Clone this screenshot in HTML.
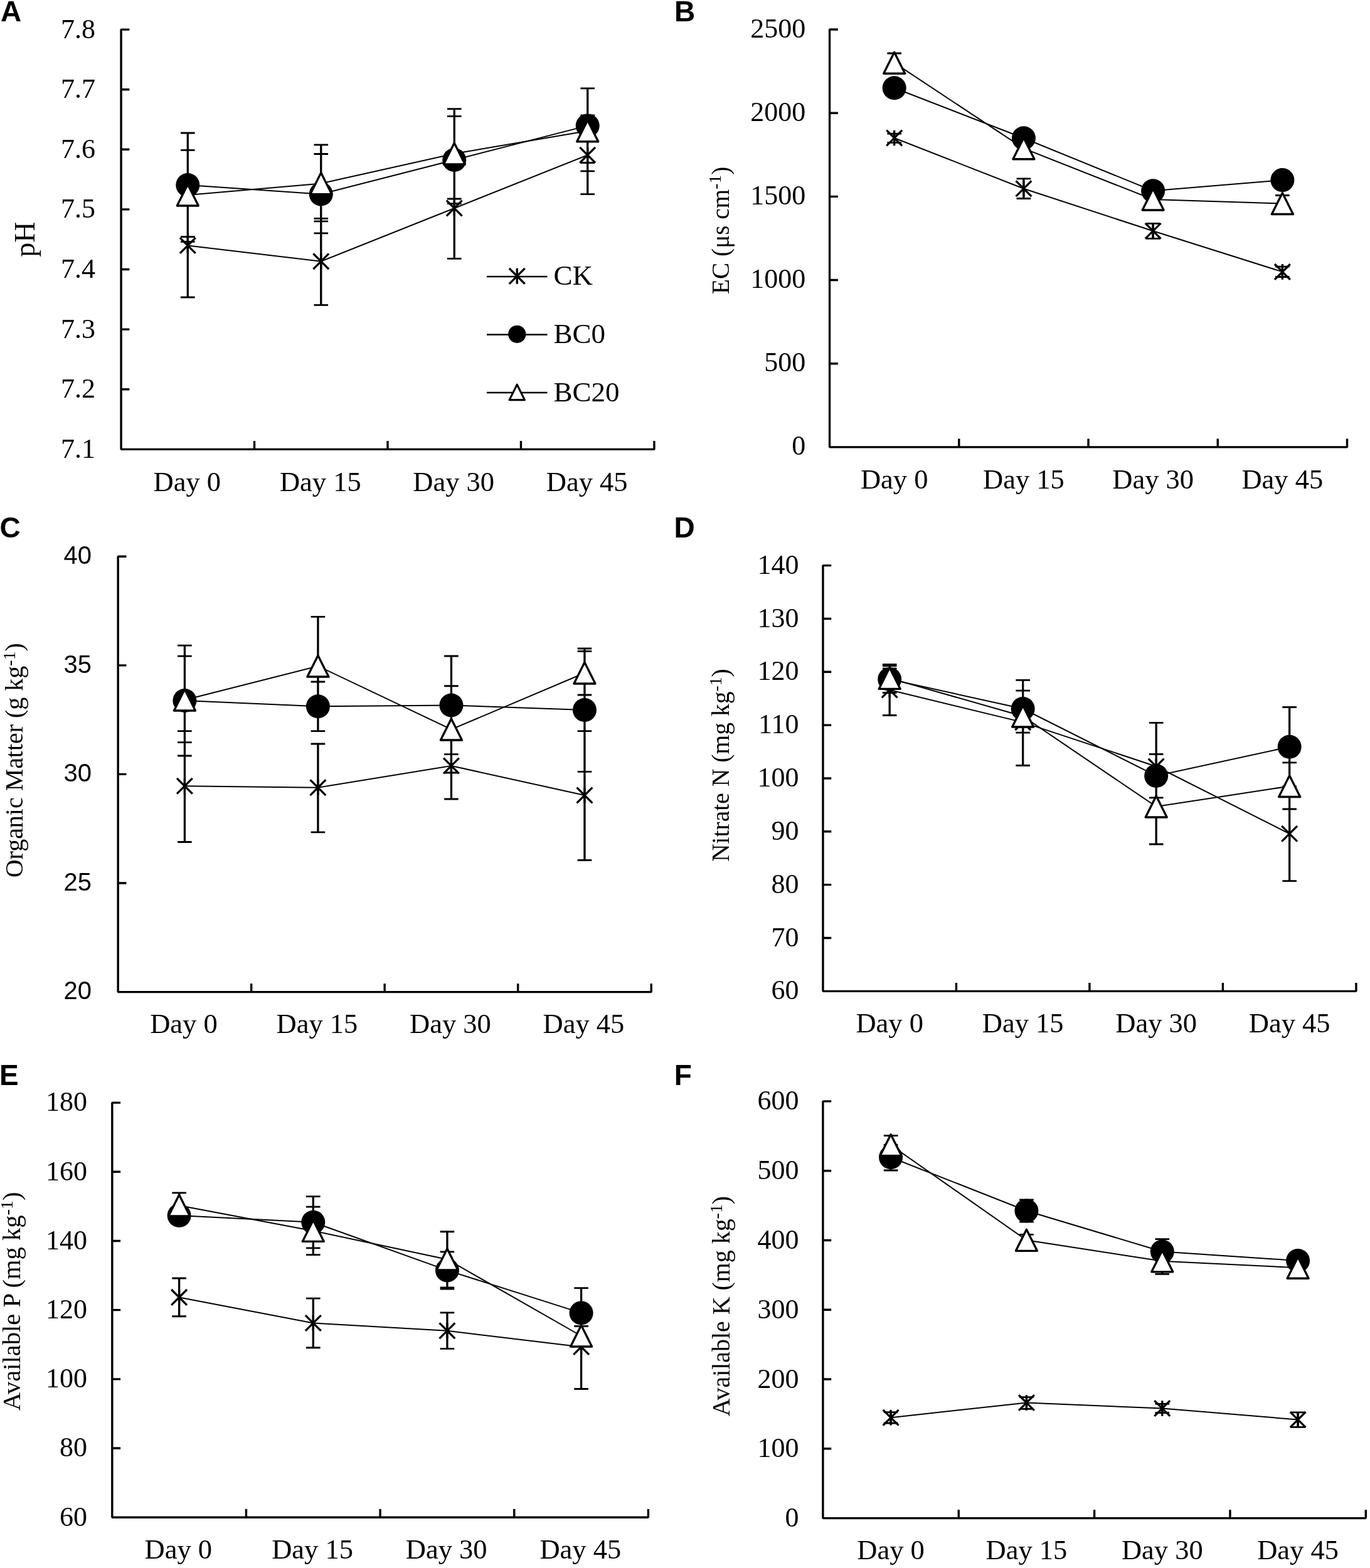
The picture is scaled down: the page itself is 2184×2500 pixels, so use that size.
<!DOCTYPE html>
<html><head><meta charset="utf-8"><title>Soil properties figure</title>
<style>html,body{margin:0;padding:0;background:#fff;}svg{display:block;}.k{stroke:#000;fill:none;}.t{stroke:#000;fill:#fff;stroke-linejoin:round;}circle{fill:#000;}.tf{font-family:"Liberation Serif", "Times New Roman", serif;fill:#000;}.ts{font-family:"Liberation Sans", Arial, sans-serif;fill:#000;}.lt{font-family:"Liberation Sans", Arial, sans-serif;font-weight:bold;font-size:46px;fill:#000;}</style></head><body>
<svg xmlns="http://www.w3.org/2000/svg" width="2184" height="2500" viewBox="0 0 2184 2500">
<rect width="2184" height="2500" fill="#fff"/>
<g>
<path d="M206.35 47.1H193.05V716.35H1042.95V703.05" class="k" stroke-width="3.4" stroke-linejoin="bevel"/>
<path d="M193.05 620.74H206.35M193.05 525.14H206.35M193.05 429.53H206.35M193.05 333.92H206.35M193.05 238.31H206.35M193.05 142.71H206.35M405.53 716.35V703.05M618 716.35V703.05M830.48 716.35V703.05" class="k" stroke-width="3.4"/>
<text x="152" y="729.91" class="tf" text-anchor="end" font-size="44">7.1</text>
<text x="152" y="634.31" class="tf" text-anchor="end" font-size="44">7.2</text>
<text x="152" y="538.7" class="tf" text-anchor="end" font-size="44">7.3</text>
<text x="152" y="443.09" class="tf" text-anchor="end" font-size="44">7.4</text>
<text x="152" y="347.49" class="tf" text-anchor="end" font-size="44">7.5</text>
<text x="152" y="251.88" class="tf" text-anchor="end" font-size="44">7.6</text>
<text x="152" y="156.27" class="tf" text-anchor="end" font-size="44">7.7</text>
<text x="152" y="60.66" class="tf" text-anchor="end" font-size="44">7.8</text>
<text x="298.29" y="782.8" class="tf" text-anchor="middle" font-size="44.5">Day 0</text>
<text x="510.76" y="782.8" class="tf" text-anchor="middle" font-size="44.5">Day 15</text>
<text x="723.24" y="782.8" class="tf" text-anchor="middle" font-size="44.5">Day 30</text>
<text x="935.71" y="782.8" class="tf" text-anchor="middle" font-size="44.5">Day 45</text>
<text transform="translate(55.3 381.6) rotate(-90)" class="tf" text-anchor="middle" font-size="46">pH</text>
<text x="1" y="33.6" class="lt">A</text>
<polyline points="299.29,391.5 511.76,416.7 724.24,332 936.71,247.2" class="k" stroke-width="2"/>
<polyline points="299.29,295 511.76,309.5 724.24,255 936.71,200.4" class="k" stroke-width="2"/>
<polyline points="299.29,311 511.76,292.6 724.24,245 936.71,208.7" class="k" stroke-width="2"/>
<path d="M299.29 309V474M511.76 352.8V486.3M724.24 252V412.4M936.71 184V309.7M299.29 212V377.5M511.76 245.5V371.9M724.24 185.4V324.7M936.71 140.8V259.5M299.29 239.4V385.3M511.76 230.9V348.4M724.24 173.6V317M936.71 140.8V272.9" class="k" stroke-width="3.3"/>
<path d="M287.99 309H310.59M287.99 474H310.59M500.46 352.8H523.06M500.46 486.3H523.06M712.94 252H735.54M712.94 412.4H735.54M925.41 184H948.01M925.41 309.7H948.01M287.99 212H310.59M287.99 377.5H310.59M500.46 245.5H523.06M500.46 371.9H523.06M712.94 185.4H735.54M712.94 324.7H735.54M925.41 140.8H948.01M925.41 259.5H948.01M287.99 239.4H310.59M287.99 385.3H310.59M500.46 230.9H523.06M500.46 348.4H523.06M712.94 173.6H735.54M712.94 317H735.54M925.41 140.8H948.01M925.41 272.9H948.01" class="k" stroke-width="2.8"/>
<path d="M286.89 379.1L311.69 403.9M286.89 403.9L311.69 379.1M299.29 379.2V403.8" class="k" stroke-width="3.3"/>
<path d="M499.36 404.3L524.16 429.1M499.36 429.1L524.16 404.3M511.76 404.4V429" class="k" stroke-width="3.3"/>
<path d="M711.84 319.6L736.64 344.4M711.84 344.4L736.64 319.6M724.24 319.7V344.3" class="k" stroke-width="3.3"/>
<path d="M924.31 234.8L949.11 259.6M924.31 259.6L949.11 234.8M936.71 234.9V259.5" class="k" stroke-width="3.3"/>
<circle cx="299.29" cy="295" r="19"/>
<circle cx="511.76" cy="309.5" r="19"/>
<circle cx="724.24" cy="255" r="19"/>
<circle cx="936.71" cy="200.4" r="19"/>
<path d="M299.29 294L316.29 328L282.29 328Z" class="t" stroke-width="3.35"/>
<path d="M511.76 275.6L528.76 309.6L494.76 309.6Z" class="t" stroke-width="3.35"/>
<path d="M724.24 228L741.24 262L707.24 262Z" class="t" stroke-width="3.35"/>
<path d="M936.71 191.7L953.71 225.7L919.71 225.7Z" class="t" stroke-width="3.35"/>
<path d="M776 441H872.5" class="k" stroke-width="2.5"/>
<path d="M811.85 427.85L836.65 452.65M811.85 452.65L836.65 427.85M824.25 427.7V452.8" class="k" stroke-width="3.4"/>
<text x="882.5" y="454.2" class="tf" font-size="45">CK</text>
<path d="M776 533.4H872.5" class="k" stroke-width="2.5"/>
<circle cx="824.25" cy="532.8" r="14.1"/>
<text x="882.5" y="547.3" class="tf" font-size="45">BC0</text>
<path d="M776 626H872.5" class="k" stroke-width="2.5"/>
<path d="M824.25 613.2L836.45 637.6L812.05 637.6Z" class="t" stroke-width="3.1"/>
<text x="882.5" y="639.7" class="tf" font-size="45">BC20</text>
</g>
<g>
<path d="M1335.85 47.05H1322.55V712.9H2147.5V699.6" class="k" stroke-width="3.4" stroke-linejoin="bevel"/>
<path d="M1322.55 579.73H1335.85M1322.55 446.56H1335.85M1322.55 313.39H1335.85M1322.55 180.22H1335.85M1528.79 712.9V699.6M1735.03 712.9V699.6M1941.26 712.9V699.6" class="k" stroke-width="3.4"/>
<text x="1284.3" y="725.46" class="tf" text-anchor="end" font-size="44">0</text>
<text x="1284.3" y="592.29" class="tf" text-anchor="end" font-size="44">500</text>
<text x="1284.3" y="459.12" class="tf" text-anchor="end" font-size="44">1000</text>
<text x="1284.3" y="325.95" class="tf" text-anchor="end" font-size="44">1500</text>
<text x="1284.3" y="192.78" class="tf" text-anchor="end" font-size="44">2000</text>
<text x="1284.3" y="59.61" class="tf" text-anchor="end" font-size="44">2500</text>
<text x="1425.67" y="779" class="tf" text-anchor="middle" font-size="44.5">Day 0</text>
<text x="1631.91" y="779" class="tf" text-anchor="middle" font-size="44.5">Day 15</text>
<text x="1838.14" y="779" class="tf" text-anchor="middle" font-size="44.5">Day 30</text>
<text x="2044.38" y="779" class="tf" text-anchor="middle" font-size="44.5">Day 45</text>
<text transform="translate(1161.6 367.3) rotate(-90)" class="tf" text-anchor="middle" font-size="39.3">EC (μs cm<tspan font-size="27.51" dy="-12.18">-1</tspan><tspan dy="12.18">)</tspan></text>
<text x="1075" y="33.6" class="lt">B</text>
<polyline points="1425.67,220 1631.91,300.7 1838.14,368.3 2044.38,433.4" class="k" stroke-width="2"/>
<polyline points="1425.67,140.2 1631.91,220.2 1838.14,304.3 2044.38,287.1" class="k" stroke-width="2"/>
<polyline points="1425.67,100.2 1631.91,236.7 1838.14,318 2044.38,324.5" class="k" stroke-width="2"/>
<path d="M1425.67 213.1V227.4M1631.91 284.9V316.5M1838.14 356.4V380.4M2044.38 425.1V441.5M1425.67 130V150M1631.91 210V230M1838.14 294V314M2044.38 277V297M1425.67 85V114M1631.91 227V246M1838.14 308V328M2044.38 311.5V338" class="k" stroke-width="3.3"/>
<path d="M1414.37 213.1H1436.97M1414.37 227.4H1436.97M1620.61 284.9H1643.21M1620.61 316.5H1643.21M1826.84 356.4H1849.44M1826.84 380.4H1849.44M2033.08 425.1H2055.68M2033.08 441.5H2055.68M1414.37 130H1436.97M1414.37 150H1436.97M1620.61 210H1643.21M1620.61 230H1643.21M1826.84 294H1849.44M1826.84 314H1849.44M2033.08 277H2055.68M2033.08 297H2055.68M1414.37 85H1436.97M1414.37 114H1436.97M1620.61 227H1643.21M1620.61 246H1643.21M1826.84 308H1849.44M1826.84 328H1849.44M2033.08 311.5H2055.68M2033.08 338H2055.68" class="k" stroke-width="2.8"/>
<path d="M1413.27 207.6L1438.07 232.4M1413.27 232.4L1438.07 207.6M1425.67 207.7V232.3" class="k" stroke-width="3.3"/>
<path d="M1619.51 288.3L1644.31 313.1M1619.51 313.1L1644.31 288.3M1631.91 288.4V313" class="k" stroke-width="3.3"/>
<path d="M1825.74 355.9L1850.54 380.7M1825.74 380.7L1850.54 355.9M1838.14 356V380.6" class="k" stroke-width="3.3"/>
<path d="M2031.98 421L2056.78 445.8M2031.98 445.8L2056.78 421M2044.38 421.1V445.7" class="k" stroke-width="3.3"/>
<circle cx="1425.67" cy="140.2" r="19"/>
<circle cx="1631.91" cy="220.2" r="19"/>
<circle cx="1838.14" cy="304.3" r="19"/>
<circle cx="2044.38" cy="287.1" r="19"/>
<path d="M1425.67 83.2L1442.67 117.2L1408.67 117.2Z" class="t" stroke-width="3.35"/>
<path d="M1631.91 219.7L1648.91 253.7L1614.91 253.7Z" class="t" stroke-width="3.35"/>
<path d="M1838.14 301L1855.14 335L1821.14 335Z" class="t" stroke-width="3.35"/>
<path d="M2044.38 307.5L2061.38 341.5L2027.38 341.5Z" class="t" stroke-width="3.35"/>
</g>
<g>
<path d="M201.45 887.25H188.15V1581.6H1038.2V1568.3" class="k" stroke-width="3.4" stroke-linejoin="bevel"/>
<path d="M188.15 1408.01H201.45M188.15 1234.42H201.45M188.15 1060.84H201.45M400.66 1581.6V1568.3M613.18 1581.6V1568.3M825.69 1581.6V1568.3" class="k" stroke-width="3.4"/>
<text x="146" y="1593.34" class="ts" text-anchor="end" font-size="40">20</text>
<text x="146" y="1419.75" class="ts" text-anchor="end" font-size="40">25</text>
<text x="146" y="1246.16" class="ts" text-anchor="end" font-size="40">30</text>
<text x="146" y="1072.58" class="ts" text-anchor="end" font-size="40">35</text>
<text x="146" y="898.99" class="ts" text-anchor="end" font-size="40">40</text>
<text x="292.91" y="1646.8" class="tf" text-anchor="middle" font-size="44.5">Day 0</text>
<text x="505.42" y="1646.8" class="tf" text-anchor="middle" font-size="44.5">Day 15</text>
<text x="717.93" y="1646.8" class="tf" text-anchor="middle" font-size="44.5">Day 30</text>
<text x="930.44" y="1646.8" class="tf" text-anchor="middle" font-size="44.5">Day 45</text>
<text transform="translate(36.1 1212.2) rotate(-90)" class="tf" text-anchor="middle" font-size="39.95">Organic Matter (g kg<tspan font-size="27.96" dy="-12.38">-1</tspan><tspan dy="12.38">)</tspan></text>
<text x="-0.5" y="856.9" class="lt">C</text>
<polyline points="294.41,1253.2 506.92,1255.7 719.43,1221 931.94,1268" class="k" stroke-width="2"/>
<polyline points="294.41,1117 506.92,1126.3 719.43,1124.5 931.94,1132" class="k" stroke-width="2"/>
<polyline points="294.41,1116 506.92,1062 719.43,1163 931.94,1073" class="k" stroke-width="2"/>
<path d="M294.41 1165.7V1342.5M506.92 1186V1326.8M719.43 1168V1274M931.94 1165.7V1371.5M294.41 1029.1V1205M506.92 1087V1165.7M719.43 1046V1202.7M931.94 1038.4V1230.4M294.41 1046.1V1183.6M506.92 983.3V1140.7M719.43 1093.75V1232M931.94 1034V1108" class="k" stroke-width="3.3"/>
<path d="M283.11 1165.7H305.71M283.11 1342.5H305.71M495.62 1186H518.22M495.62 1326.8H518.22M708.13 1168H730.73M708.13 1274H730.73M920.64 1165.7H943.24M920.64 1371.5H943.24M283.11 1029.1H305.71M283.11 1205H305.71M495.62 1087H518.22M495.62 1165.7H518.22M708.13 1046H730.73M708.13 1202.7H730.73M920.64 1038.4H943.24M920.64 1230.4H943.24M283.11 1046.1H305.71M283.11 1183.6H305.71M495.62 983.3H518.22M495.62 1140.7H518.22M708.13 1093.75H730.73M708.13 1232H730.73M920.64 1034H943.24M920.64 1108H943.24" class="k" stroke-width="2.8"/>
<path d="M282.01 1240.8L306.81 1265.6M282.01 1265.6L306.81 1240.8M294.41 1240.9V1265.5" class="k" stroke-width="3.3"/>
<path d="M494.52 1243.3L519.32 1268.1M494.52 1268.1L519.32 1243.3M506.92 1243.4V1268" class="k" stroke-width="3.3"/>
<path d="M707.03 1208.6L731.83 1233.4M707.03 1233.4L731.83 1208.6M719.43 1208.7V1233.3" class="k" stroke-width="3.3"/>
<path d="M919.54 1255.6L944.34 1280.4M919.54 1280.4L944.34 1255.6M931.94 1255.7V1280.3" class="k" stroke-width="3.3"/>
<circle cx="294.41" cy="1117" r="19"/>
<circle cx="506.92" cy="1126.3" r="19"/>
<circle cx="719.43" cy="1124.5" r="19"/>
<circle cx="931.94" cy="1132" r="19"/>
<path d="M294.41 1099L311.41 1133L277.41 1133Z" class="t" stroke-width="3.35"/>
<path d="M506.92 1045L523.92 1079L489.92 1079Z" class="t" stroke-width="3.35"/>
<path d="M719.43 1146L736.43 1180L702.43 1180Z" class="t" stroke-width="3.35"/>
<path d="M931.94 1056L948.94 1090L914.94 1090Z" class="t" stroke-width="3.35"/>
</g>
<g>
<path d="M1325.25 901.6H1311.95V1580.35H2161.9V1567.05" class="k" stroke-width="3.4" stroke-linejoin="bevel"/>
<path d="M1311.95 1495.51H1325.25M1311.95 1410.66H1325.25M1311.95 1325.82H1325.25M1311.95 1240.97H1325.25M1311.95 1156.13H1325.25M1311.95 1071.29H1325.25M1311.95 986.44H1325.25M1524.44 1580.35V1567.05M1736.93 1580.35V1567.05M1949.41 1580.35V1567.05" class="k" stroke-width="3.4"/>
<text x="1273.4" y="1593.41" class="tf" text-anchor="end" font-size="44">60</text>
<text x="1273.4" y="1508.57" class="tf" text-anchor="end" font-size="44">70</text>
<text x="1273.4" y="1423.73" class="tf" text-anchor="end" font-size="44">80</text>
<text x="1273.4" y="1338.88" class="tf" text-anchor="end" font-size="44">90</text>
<text x="1273.4" y="1254.04" class="tf" text-anchor="end" font-size="44">100</text>
<text x="1273.4" y="1169.2" class="tf" text-anchor="end" font-size="44">110</text>
<text x="1273.4" y="1084.35" class="tf" text-anchor="end" font-size="44">120</text>
<text x="1273.4" y="999.51" class="tf" text-anchor="end" font-size="44">130</text>
<text x="1273.4" y="914.66" class="tf" text-anchor="end" font-size="44">140</text>
<text x="1418.19" y="1646.4" class="tf" text-anchor="middle" font-size="44.5">Day 0</text>
<text x="1630.68" y="1646.4" class="tf" text-anchor="middle" font-size="44.5">Day 15</text>
<text x="1843.17" y="1646.4" class="tf" text-anchor="middle" font-size="44.5">Day 30</text>
<text x="2055.66" y="1646.4" class="tf" text-anchor="middle" font-size="44.5">Day 45</text>
<text transform="translate(1161.8 1220.15) rotate(-90)" class="tf" text-anchor="middle" font-size="39.6">Nitrate N (mg kg<tspan font-size="27.72" dy="-12.28">-1</tspan><tspan dy="12.28">)</tspan></text>
<text x="1074.5" y="856.9" class="lt">D</text>
<polyline points="1418.19,1100 1630.68,1151.6 1843.17,1222 2055.66,1329.3" class="k" stroke-width="2"/>
<polyline points="1418.19,1083 1630.68,1130 1843.17,1237 2055.66,1190.7" class="k" stroke-width="2"/>
<polyline points="1418.19,1081.4 1630.68,1142 1843.17,1286 2055.66,1253.5" class="k" stroke-width="2"/>
<path d="M1418.19 1059.5V1140.5M1630.68 1084.4V1220.5M1843.17 1152.3V1292M2055.66 1254V1404.6M1418.19 1061.5V1104.5M1630.68 1101.2V1159M1843.17 1202.5V1271.9M2055.66 1127.5V1254M1418.19 1066V1096.8M1630.68 1116V1168.1M1843.17 1226V1346M2055.66 1215.8V1290" class="k" stroke-width="3.3"/>
<path d="M1406.89 1059.5H1429.49M1406.89 1140.5H1429.49M1619.38 1084.4H1641.98M1619.38 1220.5H1641.98M1831.87 1152.3H1854.47M1831.87 1292H1854.47M2044.36 1254H2066.96M2044.36 1404.6H2066.96M1406.89 1061.5H1429.49M1406.89 1104.5H1429.49M1619.38 1101.2H1641.98M1619.38 1159H1641.98M1831.87 1202.5H1854.47M1831.87 1271.9H1854.47M2044.36 1127.5H2066.96M2044.36 1254H2066.96M1406.89 1066H1429.49M1406.89 1096.8H1429.49M1619.38 1116H1641.98M1619.38 1168.1H1641.98M1831.87 1226H1854.47M1831.87 1346H1854.47M2044.36 1215.8H2066.96M2044.36 1290H2066.96" class="k" stroke-width="2.8"/>
<path d="M1405.79 1087.6L1430.59 1112.4M1405.79 1112.4L1430.59 1087.6M1418.19 1087.7V1112.3" class="k" stroke-width="3.3"/>
<path d="M1618.28 1139.2L1643.08 1164M1618.28 1164L1643.08 1139.2M1630.68 1139.3V1163.9" class="k" stroke-width="3.3"/>
<path d="M1830.77 1209.6L1855.57 1234.4M1830.77 1234.4L1855.57 1209.6M1843.17 1209.7V1234.3" class="k" stroke-width="3.3"/>
<path d="M2043.26 1316.9L2068.06 1341.7M2043.26 1341.7L2068.06 1316.9M2055.66 1317V1341.6" class="k" stroke-width="3.3"/>
<circle cx="1418.19" cy="1083" r="19"/>
<circle cx="1630.68" cy="1130" r="19"/>
<circle cx="1843.17" cy="1237" r="19"/>
<circle cx="2055.66" cy="1190.7" r="19"/>
<path d="M1418.19 1064.4L1435.19 1098.4L1401.19 1098.4Z" class="t" stroke-width="3.35"/>
<path d="M1630.68 1125L1647.68 1159L1613.68 1159Z" class="t" stroke-width="3.35"/>
<path d="M1843.17 1269L1860.17 1303L1826.17 1303Z" class="t" stroke-width="3.35"/>
<path d="M2055.66 1236.5L2072.66 1270.5L2038.66 1270.5Z" class="t" stroke-width="3.35"/>
</g>
<g>
<path d="M192.1 1758.1H178.8V2419.2H1033.4V2405.9" class="k" stroke-width="3.4" stroke-linejoin="bevel"/>
<path d="M178.8 2309.02H192.1M178.8 2198.83H192.1M178.8 2088.65H192.1M178.8 1978.47H192.1M178.8 1868.28H192.1M392.45 2419.2V2405.9M606.1 2419.2V2405.9M819.75 2419.2V2405.9" class="k" stroke-width="3.4"/>
<text x="139" y="2432.56" class="tf" text-anchor="end" font-size="44">60</text>
<text x="139" y="2322.38" class="tf" text-anchor="end" font-size="44">80</text>
<text x="139" y="2212.2" class="tf" text-anchor="end" font-size="44">100</text>
<text x="139" y="2102.01" class="tf" text-anchor="end" font-size="44">120</text>
<text x="139" y="1991.83" class="tf" text-anchor="end" font-size="44">140</text>
<text x="139" y="1881.65" class="tf" text-anchor="end" font-size="44">160</text>
<text x="139" y="1771.46" class="tf" text-anchor="end" font-size="44">180</text>
<text x="284.38" y="2484.5" class="tf" text-anchor="middle" font-size="44.5">Day 0</text>
<text x="498.03" y="2484.5" class="tf" text-anchor="middle" font-size="44.5">Day 15</text>
<text x="711.68" y="2484.5" class="tf" text-anchor="middle" font-size="44.5">Day 30</text>
<text x="925.33" y="2484.5" class="tf" text-anchor="middle" font-size="44.5">Day 45</text>
<text transform="translate(32.2 2074.8) rotate(-90)" class="tf" text-anchor="middle" font-size="40.5">Available P (mg kg<tspan font-size="28.35" dy="-12.55">-1</tspan><tspan dy="12.55">)</tspan></text>
<text x="-1" y="1730.3" class="lt">E</text>
<polyline points="285.62,2068.4 499.28,2109.5 712.93,2121.8 926.58,2147.5" class="k" stroke-width="2"/>
<polyline points="285.62,1938 499.28,1948.75 712.93,2025.4 926.58,2093.4" class="k" stroke-width="2"/>
<polyline points="285.62,1922 499.28,1962.4 712.93,2008 926.58,2130" class="k" stroke-width="2"/>
<path d="M285.62 2038V2098.75M499.28 2070.2V2148.75M712.93 2092.9V2150.4M926.58 2080.5V2214.5M285.62 1930V1946M499.28 1907.7V1989.8M712.93 1995.9V2055M926.58 2053.6V2133M285.62 1901.8V1942M499.28 1924.1V2000.7M712.93 1963.75V2053M926.58 2114.5V2146" class="k" stroke-width="3.3"/>
<path d="M274.32 2038H296.93M274.32 2098.75H296.93M487.98 2070.2H510.58M487.98 2148.75H510.58M701.63 2092.9H724.23M701.63 2150.4H724.23M915.28 2080.5H937.88M915.28 2214.5H937.88M274.32 1930H296.93M274.32 1946H296.93M487.98 1907.7H510.58M487.98 1989.8H510.58M701.63 1995.9H724.23M701.63 2055H724.23M915.28 2053.6H937.88M915.28 2133H937.88M274.32 1901.8H296.93M274.32 1942H296.93M487.98 1924.1H510.58M487.98 2000.7H510.58M701.63 1963.75H724.23M701.63 2053H724.23M915.28 2114.5H937.88M915.28 2146H937.88" class="k" stroke-width="2.8"/>
<path d="M273.23 2056L298.02 2080.8M273.23 2080.8L298.02 2056M285.62 2056.1V2080.7" class="k" stroke-width="3.3"/>
<path d="M486.88 2097.1L511.68 2121.9M486.88 2121.9L511.68 2097.1M499.28 2097.2V2121.8" class="k" stroke-width="3.3"/>
<path d="M700.53 2109.4L725.33 2134.2M700.53 2134.2L725.33 2109.4M712.93 2109.5V2134.1" class="k" stroke-width="3.3"/>
<path d="M914.18 2135.1L938.98 2159.9M914.18 2159.9L938.98 2135.1M926.58 2135.2V2159.8" class="k" stroke-width="3.3"/>
<circle cx="285.62" cy="1938" r="19"/>
<circle cx="499.28" cy="1948.75" r="19"/>
<circle cx="712.93" cy="2025.4" r="19"/>
<circle cx="926.58" cy="2093.4" r="19"/>
<path d="M285.62 1905L302.62 1939L268.62 1939Z" class="t" stroke-width="3.35"/>
<path d="M499.28 1945.4L516.28 1979.4L482.28 1979.4Z" class="t" stroke-width="3.35"/>
<path d="M712.93 1991L729.93 2025L695.93 2025Z" class="t" stroke-width="3.35"/>
<path d="M926.58 2113L943.58 2147L909.58 2147Z" class="t" stroke-width="3.35"/>
</g>
<g>
<path d="M1325.2 1755.9H1311.9V2420.6H2177.3V2407.3" class="k" stroke-width="3.4" stroke-linejoin="bevel"/>
<path d="M1311.9 2309.82H1325.2M1311.9 2199.03H1325.2M1311.9 2088.25H1325.2M1311.9 1977.47H1325.2M1311.9 1866.68H1325.2M1528.25 2420.6V2407.3M1744.6 2420.6V2407.3M1960.95 2420.6V2407.3" class="k" stroke-width="3.4"/>
<text x="1273.4" y="2434.16" class="tf" text-anchor="end" font-size="44">0</text>
<text x="1273.4" y="2323.38" class="tf" text-anchor="end" font-size="44">100</text>
<text x="1273.4" y="2212.6" class="tf" text-anchor="end" font-size="44">200</text>
<text x="1273.4" y="2101.81" class="tf" text-anchor="end" font-size="44">300</text>
<text x="1273.4" y="1991.03" class="tf" text-anchor="end" font-size="44">400</text>
<text x="1273.4" y="1880.25" class="tf" text-anchor="end" font-size="44">500</text>
<text x="1273.4" y="1769.46" class="tf" text-anchor="end" font-size="44">600</text>
<text x="1420.08" y="2486.4" class="tf" text-anchor="middle" font-size="44.5">Day 0</text>
<text x="1636.43" y="2486.4" class="tf" text-anchor="middle" font-size="44.5">Day 15</text>
<text x="1852.78" y="2486.4" class="tf" text-anchor="middle" font-size="44.5">Day 30</text>
<text x="2069.12" y="2486.4" class="tf" text-anchor="middle" font-size="44.5">Day 45</text>
<text transform="translate(1162.9 2082.6) rotate(-90)" class="tf" text-anchor="middle" font-size="39.9">Available K (mg kg<tspan font-size="27.93" dy="-12.37">-1</tspan><tspan dy="12.37">)</tspan></text>
<text x="1074.7" y="1730.3" class="lt">F</text>
<polyline points="1420.08,2260.2 1636.43,2236.5 1852.78,2245.5 2069.12,2263.5" class="k" stroke-width="2"/>
<polyline points="1420.08,1845.2 1636.43,1930.5 1852.78,1995.5 2069.12,2010" class="k" stroke-width="2"/>
<polyline points="1420.08,1825.7 1636.43,1977.3 1852.78,2010.8 2069.12,2021.2" class="k" stroke-width="2"/>
<path d="M1420.08 2251.7V2269M1636.43 2227.6V2246.3M1852.78 2238.4V2252.5M2069.12 2251.9V2275.3M1420.08 1825.5V1866M1636.43 1913V1948M1852.78 1975.7V2015.3M2069.12 2000V2020M1420.08 1810.7V1840.7M1636.43 1968.4V1986.2M1852.78 1990V2031.4M2069.12 2011V2031" class="k" stroke-width="3.3"/>
<path d="M1408.78 2251.7H1431.38M1408.78 2269H1431.38M1625.13 2227.6H1647.73M1625.13 2246.3H1647.73M1841.48 2238.4H1864.08M1841.48 2252.5H1864.08M2057.82 2251.9H2080.43M2057.82 2275.3H2080.43M1408.78 1825.5H1431.38M1408.78 1866H1431.38M1625.13 1913H1647.73M1625.13 1948H1647.73M1841.48 1975.7H1864.08M1841.48 2015.3H1864.08M2057.82 2000H2080.43M2057.82 2020H2080.43M1408.78 1810.7H1431.38M1408.78 1840.7H1431.38M1625.13 1968.4H1647.73M1625.13 1986.2H1647.73M1841.48 1990H1864.08M1841.48 2031.4H1864.08M2057.82 2011H2080.43M2057.82 2031H2080.43" class="k" stroke-width="2.8"/>
<path d="M1407.67 2247.8L1432.48 2272.6M1407.67 2272.6L1432.48 2247.8M1420.08 2247.9V2272.5" class="k" stroke-width="3.3"/>
<path d="M1624.03 2224.1L1648.83 2248.9M1624.03 2248.9L1648.83 2224.1M1636.43 2224.2V2248.8" class="k" stroke-width="3.3"/>
<path d="M1840.38 2233.1L1865.18 2257.9M1840.38 2257.9L1865.18 2233.1M1852.78 2233.2V2257.8" class="k" stroke-width="3.3"/>
<path d="M2056.72 2251.1L2081.53 2275.9M2056.72 2275.9L2081.53 2251.1M2069.12 2251.2V2275.8" class="k" stroke-width="3.3"/>
<circle cx="1420.08" cy="1845.2" r="19"/>
<circle cx="1636.43" cy="1930.5" r="19"/>
<circle cx="1852.78" cy="1995.5" r="19"/>
<circle cx="2069.12" cy="2010" r="19"/>
<path d="M1420.08 1808.7L1437.08 1842.7L1403.08 1842.7Z" class="t" stroke-width="3.35"/>
<path d="M1636.43 1960.3L1653.43 1994.3L1619.43 1994.3Z" class="t" stroke-width="3.35"/>
<path d="M1852.78 1993.8L1869.78 2027.8L1835.78 2027.8Z" class="t" stroke-width="3.35"/>
<path d="M2069.12 2004.2L2086.12 2038.2L2052.12 2038.2Z" class="t" stroke-width="3.35"/>
</g>
</svg></body></html>
